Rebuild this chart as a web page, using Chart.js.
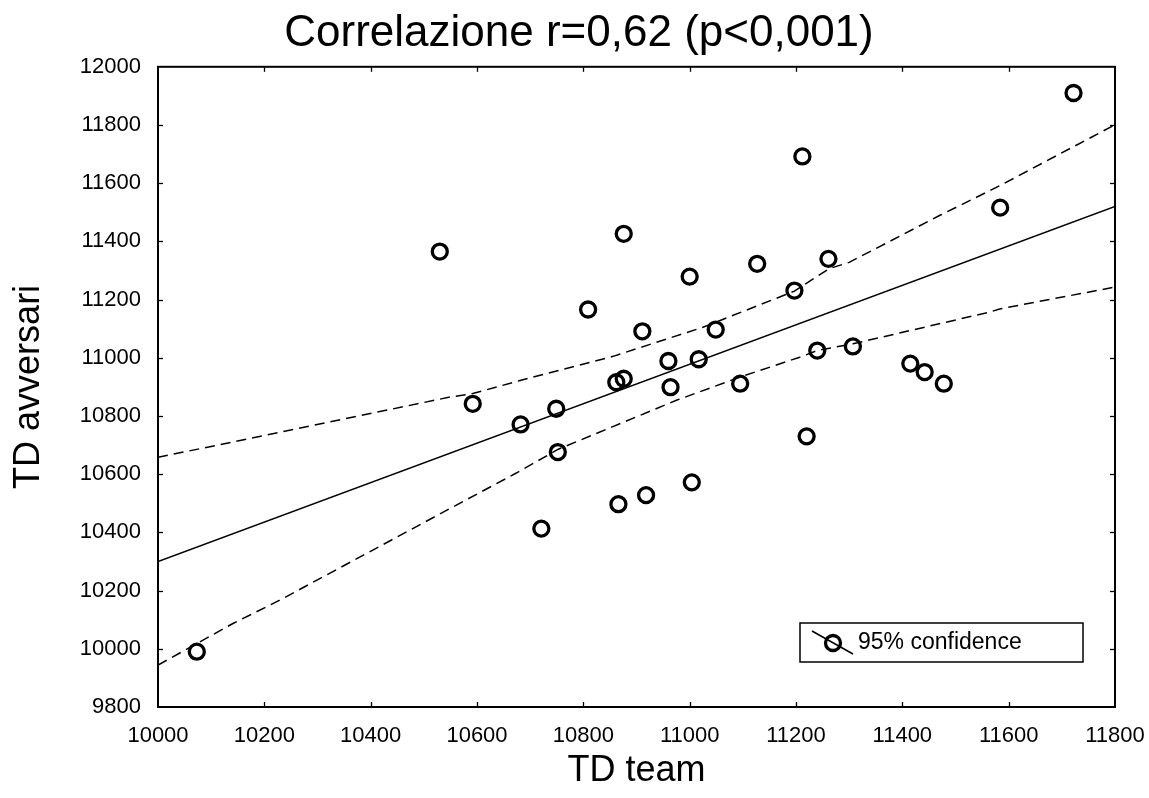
<!DOCTYPE html>
<html><head><meta charset="utf-8">
<script src="https://cdn.jsdelivr.net/npm/chart.js@4.4.0/dist/chart.umd.min.js"></script>
<style>html,body{margin:0;padding:0;background:#fff;}#wrap{width:1149px;height:798px;position:relative;}</style>
</head><body><div id="wrap"><canvas id="c"></canvas></div>
<script>
const titleText = 'Correlazione r=0,62 (p<0,001)';
const xAxisTitle = 'TD team';
const yAxisTitle = 'TD avversari';
const legendLabel = '95% confidence';
const xTicks = [10000, 10200, 10400, 10600, 10800, 11000, 11200, 11400, 11600, 11800];
const yTicks = [9800, 10000, 10200, 10400, 10600, 10800, 11000, 11200, 11400, 11600, 11800, 12000];

const tdTeam = [10073, 10530, 10592, 10682, 10721, 10749, 10752, 10809, 10862, 10866, 10876, 10876, 10911, 10918, 10960, 10964, 11000, 11004, 11017, 11049, 11095, 11127, 11197, 11212, 11220, 11240, 11261, 11307, 11415, 11442, 11478, 11584, 11722];
const tdOpp  = [9990, 11365, 10842, 10771, 10413, 10825, 10676, 11166, 10916, 10497, 10928, 11426, 11091, 10528, 10989, 10899, 11279, 10572, 10995, 11097, 10911, 11323, 11231, 11692, 10730, 11025, 11340, 11039, 10980, 10951, 10911, 11516, 11910];

const fitX = [10000, 11800];
const fitY = [10300, 11520];

const upperX = [10000, 10232, 10549, 10592, 10681, 10856, 11025, 11197, 11262, 11300, 11470, 11584, 11800];
const upperY = [10658, 10745, 10865, 10877, 10922, 11005, 11105, 11229, 11306, 11328, 11489, 11592, 11801];
const lowerX = [10000, 10141, 10229, 10549, 10674, 10752, 10975, 11095, 11207, 11240, 11307, 11564, 11583, 11800];
const lowerY = [9944, 10087, 10167, 10482, 10604, 10685, 10854, 10934, 11002, 11025, 11048, 11157, 11168, 11243];

const FONT = "'Liberation Sans', Arial, Helvetica, sans-serif";
const pairs = (xs, ys) => xs.map((v, i) => ({x: v, y: ys[i]}));

const framePlugin = {
  id: 'frame',
  afterLayout(chart) {
    if (chart.titleBlock) {
      const w = chart.titleBlock.right - chart.titleBlock.left;
      chart.titleBlock.left = 579 - w / 2;
      chart.titleBlock.right = 579 + w / 2;
    }
  },
  afterDatasetsDraw(chart) {
    const {ctx, chartArea: a, scales: {x, y}} = chart;
    ctx.save();
    ctx.strokeStyle = '#000';
    const seg = (x1, y1, x2, y2) => { ctx.beginPath(); ctx.moveTo(x1, y1); ctx.lineTo(x2, y2); ctx.stroke(); };
    ctx.lineWidth = 1.3;
    const tl = 5;
    xTicks.slice(1, -1).forEach(v => {
      const px = Math.round(x.getPixelForValue(v)) + 0.5;
      seg(px, a.bottom, px, a.bottom - tl);
      seg(px, a.top, px, a.top + tl);
    });
    yTicks.slice(1, -1).forEach(v => {
      const py = Math.round(y.getPixelForValue(v)) + 0.5;
      seg(a.left, py, a.left + tl, py);
      seg(a.right, py, a.right - tl, py);
    });
    ctx.lineWidth = 2;
    ctx.strokeRect(a.left, a.top, a.right - a.left, a.bottom - a.top);
    // legend box
    const lx = a.right - 315, ly = a.bottom - 84, lw = 283, lh = 39;
    ctx.fillStyle = '#fff';
    ctx.fillRect(lx, ly, lw, lh);
    ctx.lineWidth = 1.5;
    ctx.strokeRect(lx, ly, lw, lh);
    seg(lx + 12, ly + 8, lx + 53, ly + 31);
    ctx.lineWidth = 3.3;
    ctx.beginPath();
    ctx.arc(lx + 33, ly + 20, 7.5, 0, Math.PI * 2);
    ctx.stroke();
    ctx.fillStyle = '#000';
    ctx.font = '23px ' + FONT;
    ctx.textBaseline = 'middle';
    ctx.textAlign = 'left';
    ctx.fillText(legendLabel, lx + 58, ly + 20);
    ctx.restore();
  }
};

new Chart(document.getElementById('c'), {
  type: 'scatter',
  data: {
    datasets: [
      {
        label: legendLabel,
        data: pairs(tdTeam, tdOpp),
        showLine: false,
        pointStyle: 'circle',
        pointRadius: 7.5,
        pointHoverRadius: 7.5,
        pointBorderWidth: 3.3,
        borderColor: '#000',
        backgroundColor: 'rgba(0,0,0,0)'
      },
      {
        label: 'fit',
        data: pairs(fitX, fitY),
        showLine: true,
        pointRadius: 0,
        borderColor: '#000',
        borderWidth: 1.5,
        tension: 0
      },
      {
        label: 'upper',
        data: pairs(upperX, upperY),
        showLine: true,
        pointRadius: 0,
        borderColor: '#000',
        borderWidth: 1.5,
        borderDash: [10, 6],
        tension: 0
      },
      {
        label: 'lower',
        data: pairs(lowerX, lowerY),
        showLine: true,
        pointRadius: 0,
        borderColor: '#000',
        borderWidth: 1.5,
        borderDash: [10, 6],
        tension: 0
      }
    ]
  },
  options: {
    responsive: true,
    maintainAspectRatio: false,
    animation: false,
    devicePixelRatio: 1,
    layout: {padding: {left: 0, right: 0, top: 0, bottom: 0}},
    plugins: {
      legend: {display: false},
      tooltip: {enabled: false},
      title: {
        display: true,
        text: titleText,
        color: '#000',
        font: {family: FONT, size: 44, weight: 'normal'},
        padding: {top: 7, bottom: 7}
      }
    },
    scales: {
      x: {
        type: 'linear',
        position: 'bottom',
        min: 10000,
        max: 11800,
        afterBuildTicks: s => { s.ticks = xTicks.map(v => ({value: v})); },
        afterFit: s => { s.height = 91; s.paddingRight = 34; s.paddingLeft = 0; },
        grid: {display: false, drawTicks: false},
        border: {display: false},
        ticks: {
          color: '#000',
          font: {family: FONT, size: 22},
          padding: 16,
          maxRotation: 0,
          autoSkip: false,
          callback: v => String(v)
        },
        title: {
          display: true,
          text: xAxisTitle,
          color: '#000',
          font: {family: FONT, size: 36, weight: 'normal'},
          padding: {top: 5, bottom: 5}
        }
      },
      y: {
        type: 'linear',
        min: 9800,
        max: 12000,
        afterBuildTicks: s => { s.ticks = yTicks.map(v => ({value: v})); },
        afterFit: s => { s.width = 158; },
        grid: {display: false, drawTicks: false},
        border: {display: false},
        ticks: {
          color: '#000',
          font: {family: FONT, size: 22},
          padding: 17,
          autoSkip: false,
          callback: v => String(v)
        },
        title: {
          display: true,
          text: yAxisTitle,
          color: '#000',
          font: {family: FONT, size: 36, weight: 'normal'},
          padding: {top: 7, bottom: 7}
        }
      }
    }
  },
  plugins: [framePlugin]
});
</script>
</body></html>
